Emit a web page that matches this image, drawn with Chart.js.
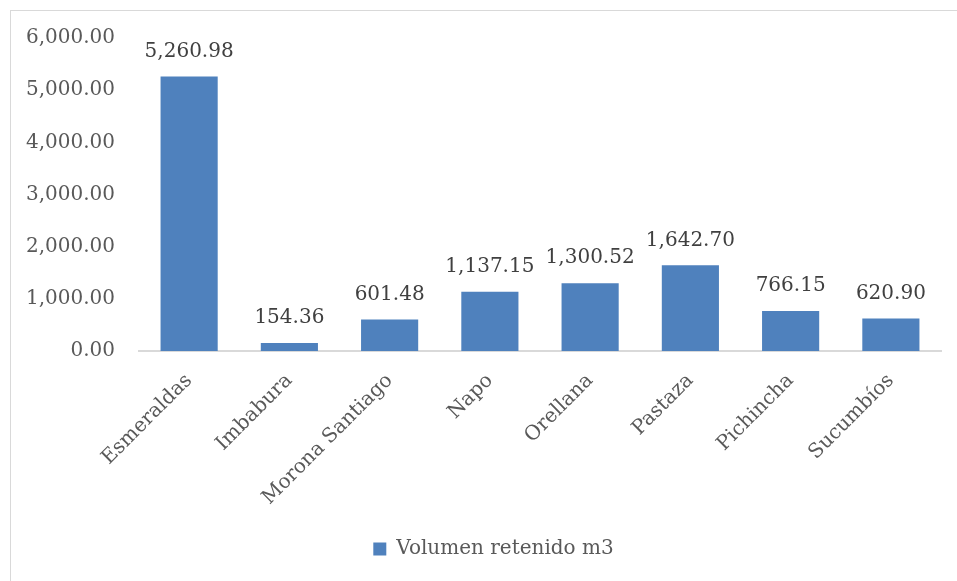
<!DOCTYPE html>
<html>
<head>
<meta charset="utf-8">
<script src="https://cdn.jsdelivr.net/npm/chart.js@4"></script>
<style>
  html, body { margin: 0; padding: 0; background: #fff; }
  #wrap { position: relative; width: 957px; height: 581px; overflow: hidden; }
  #frame { position: absolute; left: 10px; top: 10px; width: 960px; height: 600px; border: 1px solid #d9d9d9; box-sizing: border-box; }
  #chart { position: absolute; left: 0; top: 0; }
</style>
</head>
<body>
<div id="wrap">
  <div id="frame"></div>
  <canvas id="chart" width="957" height="581"></canvas>
</div>
<script>
const provincias = ["Esmeraldas", "Imbabura", "Morona Santiago", "Napo", "Orellana", "Pastaza", "Pichincha", "Sucumbíos"];
const volumen = [5260.98, 154.36, 601.48, 1137.15, 1300.52, 1642.70, 766.15, 620.90];
const serieNombre = "Volumen retenido m3";

const FONT = "'DejaVu Serif', serif";

function fmt(v) {
  return v.toLocaleString("en-US", { minimumFractionDigits: 2, maximumFractionDigits: 2 });
}

// etiquetas encima de cada barra
const barLabels = {
  id: "barLabels",
  afterDatasetsDraw(chart) {
    const ctx = chart.ctx;
    const meta = chart.getDatasetMeta(0);
    ctx.save();
    ctx.font = "20px " + FONT;
    ctx.fillStyle = "#404040";
    ctx.textAlign = "center";
    ctx.textBaseline = "middle";
    meta.data.forEach((bar, i) => {
      ctx.fillText(fmt(volumen[i]), bar.x, bar.y - 25);
    });
    ctx.restore();
  }
};

// la leyenda del original está un poco a la derecha del centro
const legendShift = {
  id: "legendShift",
  afterLayout(chart) {
    chart.legend.left += 18;
    chart.legend.right += 18;
  }
};

new Chart(document.getElementById("chart"), {
  type: "bar",
  data: {
    labels: provincias,
    datasets: [{
      label: serieNombre,
      data: volumen,
      backgroundColor: "#4f81bd",
      borderWidth: 0,
      barPercentage: 0.57,
      categoryPercentage: 1
    }]
  },
  options: {
    responsive: false,
    animation: false,
    layout: { padding: { left: 10, top: 38, right: 16, bottom: 12 } },
    plugins: {
      legend: {
        position: "bottom",
        labels: {
          font: { family: FONT, size: 20 },
          color: "#595959",
          boxWidth: 13,
          boxHeight: 13,
          padding: 10
        }
      },
      tooltip: { enabled: false }
    },
    scales: {
      y: {
        min: 0,
        max: 6000,
        ticks: {
          stepSize: 1000,
          padding: 24,
          color: "#595959",
          font: { family: FONT, size: 20 },
          callback: v => fmt(v)
        },
        grid: { display: false, drawTicks: false },
        border: { display: false },
        afterFit: s => { s.width = 129; }
      },
      x: {
        ticks: {
          minRotation: 45,
          maxRotation: 45,
          padding: 18,
          color: "#595959",
          font: { family: FONT, size: 20 }
        },
        grid: { display: false, drawTicks: false },
        border: { display: true, color: "#d9d9d9", width: 2 },
        afterFit: s => { s.height = 178; }
      }
    }
  },
  plugins: [barLabels, legendShift]
});
</script>
</body>
</html>
